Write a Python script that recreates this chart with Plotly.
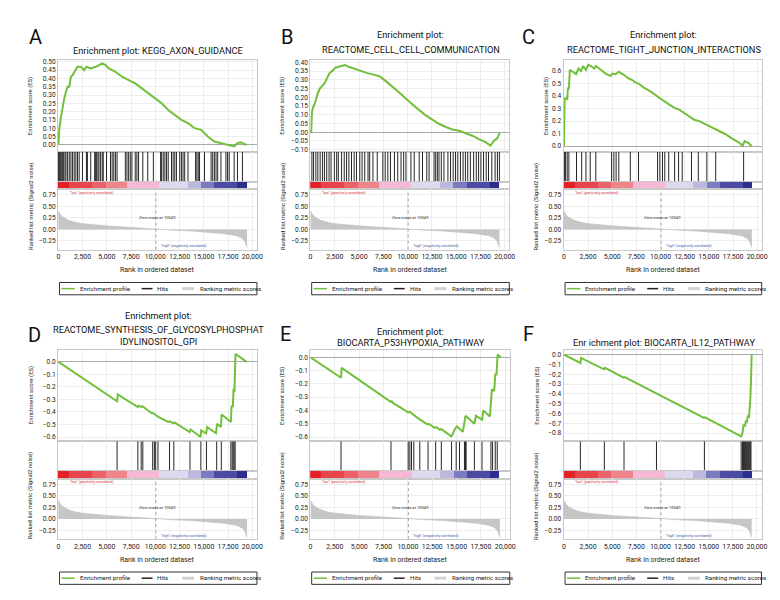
import plotly.graph_objects as go

# ---------------- data ----------------
letters = ["A", "B", "C", "D", "E", "F"]
title_lines = [
    ["Enrichment plot: KEGG_AXON_GUIDANCE"],
    ["Enrichment plot:", "REACTOME_CELL_CELL_COMMUNICATION"],
    ["Enrichment plot:", "REACTOME_TIGHT_JUNCTION_INTERACTIONS"],
    ["Enrichment plot:", "REACTOME_SYNTHESIS_OF_GLYCOSYLPHOSPHAT", "IDYLINOSITOL_GPI"],
    ["Enrichment plot:", "BIOCARTA_P53HYPOXIA_PATHWAY"],
    ["Enr ichment plot: BIOCARTA_IL12_PATHWAY"],
]

es_x_A = [0, 102, 272, 442, 612, 782, 952, 1122, 1292, 1462, 1632, 1802, 1972, 2312, 2652, 2890, 3332,
          3842, 4182, 4522, 4862, 5202, 5882, 6562, 7242, 7922, 8602, 9282, 9962, 10642, 11322, 12002,
          12682, 13362, 14042, 14722, 15402, 16082, 16762, 17442, 18122, 18462, 18802, 19142, 19414]
es_y_A = [0.0, 0.10, 0.17, 0.23, 0.28, 0.32, 0.35, 0.35, 0.41, 0.42, 0.44, 0.46, 0.47, 0.47, 0.45, 0.47, 0.46,
          0.47, 0.48, 0.49, 0.48, 0.46, 0.44, 0.41, 0.39, 0.37, 0.34, 0.31, 0.28, 0.25, 0.21, 0.18,
          0.15, 0.13, 0.10, 0.09, 0.05, 0.02, 0.01, 0.0, -0.01, 0.01, 0.015, 0.005, 0.0]

es_x_B = [0, 68, 136, 238, 408, 612, 748, 952, 1190, 1428, 1700, 1972, 2210, 2550, 2890, 3230, 3570, 3910,
          4420, 5100, 5780, 6460, 7140, 7820, 8500, 9180, 9860, 10540, 11220, 11900, 12580, 13260, 13940,
          14620, 15300, 15980, 16660, 17340, 18020, 18530, 18870, 19210, 19480]
es_y_B = [0.0, 0.0, 0.11, 0.14, 0.16, 0.20, 0.225, 0.25, 0.265, 0.28, 0.31, 0.34, 0.35, 0.37, 0.375, 0.38,
          0.385, 0.375, 0.365, 0.35, 0.34, 0.33, 0.32, 0.29, 0.26, 0.225, 0.19, 0.155, 0.125, 0.095, 0.07,
          0.047, 0.03, 0.015, 0.008, -0.004, -0.02, -0.04, -0.057, -0.077, -0.05, -0.035, -0.004]

es_x_C = [0, 34, 68, 238, 340, 408, 510, 612, 918, 1258, 1496, 1768, 1972, 2278, 2516, 2788, 3128, 3298,
          3808, 4318, 4828, 4998, 5338, 5508, 5678, 6188, 6698, 7038, 7378, 7718, 8228, 8908, 9588, 10268,
          10948, 11458, 11968, 12478, 12988, 13498, 14008, 14518, 15028, 15538, 16048, 16728, 17408, 18088,
          18496, 18700, 19108, 19448]
es_y_C = [0.0, 0.265, 0.38, 0.385, 0.37, 0.46, 0.46, 0.61, 0.595, 0.575, 0.62, 0.60, 0.64, 0.61, 0.65, 0.64,
          0.62, 0.64, 0.61, 0.58, 0.56, 0.58, 0.575, 0.585, 0.595, 0.57, 0.54, 0.53, 0.51, 0.50, 0.47, 0.44,
          0.40, 0.365, 0.33, 0.305, 0.29, 0.265, 0.24, 0.21, 0.20, 0.18, 0.16, 0.14, 0.12, 0.095, 0.06, 0.03,
          0.003, 0.04, 0.025, 0.0]

es_x_D = [0, 6052, 6120, 8194, 8262, 8534, 8670, 8772, 9622, 9792, 9962, 10302, 11322, 11492, 11832, 12002,
          13532, 13634, 14654, 14722, 15232, 15334, 16252, 16354, 16762, 16830, 17782, 17850, 17986, 18054,
          18156, 18190, 18258, 19414]
es_y_D = [0.0, -0.315, -0.26, -0.36, -0.35, -0.36, -0.355, -0.36, -0.41, -0.41, -0.42, -0.44, -0.48, -0.475,
          -0.49, -0.485, -0.56, -0.54, -0.60, -0.547, -0.57, -0.52, -0.57, -0.495, -0.52, -0.42, -0.48, -0.35,
          -0.36, -0.226, -0.23, -0.087, 0.063, 0.0]

es_x_E = [0, 3128, 3196, 8228, 8330, 8500, 10030, 10200, 10880, 11900, 12240, 12750, 12920, 13260, 13430,
          14450, 14620, 14790, 15028, 15640, 15810, 15912, 16830, 17000, 17612, 17748, 18428, 18530, 18632,
          18870, 18972, 19108, 19210, 19550]
es_y_E = [0.0, -0.154, -0.08, -0.335, -0.33, -0.345, -0.415, -0.41, -0.45, -0.50, -0.505, -0.53, -0.525,
          -0.545, -0.54, -0.595, -0.575, -0.545, -0.52, -0.56, -0.49, -0.44, -0.50, -0.44, -0.47, -0.40,
          -0.445, -0.34, -0.24, -0.253, -0.13, -0.13, 0.02, 0.0]

es_x_F = [0, 1700, 1768, 4148, 4250, 6188, 6290, 9588, 9620, 14518, 14620, 18360, 18496, 18598, 18768,
          18836, 18972, 19040, 19176, 19244, 19312, 19380, 19414, 19448]
es_y_F = [0.0, -0.084, -0.034, -0.15, -0.135, -0.235, -0.23, -0.396, -0.39, -0.645, -0.64, -0.834, -0.80,
          -0.72, -0.725, -0.68, -0.685, -0.63, -0.635, -0.57, -0.454, -0.27, -0.17, 0.0]

hits_A = [20, 102, 204, 340, 442, 544, 680, 782, 952, 1122, 1292, 1462, 1632, 1802, 1972, 2142, 2482, 2890,
          2992, 3332, 3740, 3842, 3944, 4080, 4182, 4352, 4522, 4624, 4964, 5372, 5542, 5712, 5882, 6052,
          6902, 7072, 7242, 7412, 7582, 7922, 8092, 8262, 8704, 9214, 9792, 10540, 10642, 10812, 10982,
          11152, 11322, 11662, 11832, 12002, 12172, 12512, 12682, 12852, 13022, 13362, 14144, 14280, 14416,
          14552, 15062, 15742, 15912, 16082, 16252, 16422, 16762, 17272, 17442, 17612, 18122, 18462, 18972]
hits_B = [136, 306, 544, 748, 986, 1224, 1428, 1666, 1904, 2108, 2448, 2686, 2856, 3196, 3468, 3706, 3944,
          4216, 4488, 4726, 5066, 5304, 5576, 5916, 6086, 6426, 6868, 7446, 7684, 7956, 8228, 8636, 8976,
          9316, 9588, 9826, 10336, 10676, 11186, 11526, 11968, 12206, 12716, 12886, 13056, 13226, 13464,
          13736, 14144, 14416, 14688, 14926, 15164, 15436, 15708, 15946, 16184, 16456, 16796, 17068, 17306,
          17544, 17816, 18088, 18326, 18666, 19006, 19244, 19448]
hits_C = [68, 170, 340, 510, 1300, 1836, 2278, 2720, 3298, 4930, 5168, 5400, 5678, 6868, 7718, 9690, 9928,
          10200, 10438, 10846, 11458, 11866, 12240, 13200, 13906, 14790, 15708, 18598]
hits_D = [6052, 8194, 8534, 8704, 9724, 9894, 10030, 10268, 11458, 11900, 13566, 14688, 15266, 16320, 16796,
          17782, 17918, 18020, 18122, 18224]
hits_E = [3128, 8262, 10030, 10200, 10370, 10608, 11220, 12070, 12852, 13430, 14484, 14960, 15300, 15810,
          15912, 15980, 16830, 17612, 18530, 18700, 18972, 19176]
hits_F = [1700, 4182, 6222, 9588, 14552, 18360, 18496, 18598, 18700, 18802, 18904, 19006, 19108, 19210,
          19312, 19380]

rank_metric_x = [0, 100, 250, 450, 700, 1000, 1400, 1800, 2500, 3500, 5200, 6900, 8600, 10049, 12000,
                 13700, 15400, 17100, 18400, 18900, 19200, 19350, 19450]
rank_metric_y = [0.40, 0.35, 0.31, 0.27, 0.235, 0.205, 0.175, 0.15, 0.125, 0.10, 0.072, 0.05, 0.022, 0.0,
                 -0.02, -0.035, -0.058, -0.094, -0.14, -0.19, -0.25, -0.32, -0.40]
ZERO_CROSS = 10049

cbar_start = [0, 1050, 3500, 4860, 7070, 10400, 13360, 14720, 16080, 18460]
cbar_end = [1050, 3500, 4860, 7070, 10400, 13360, 14720, 16080, 18460, 19420]
cbar_colors = ["#e41f26", "#e8444b", "#eb6269", "#ef858b", "#f5b8d5", "#dcdaee", "#bdb9de", "#7b7bc2",
               "#4b4ba4", "#2b2e8e"]

x_ticks = [0, 2500, 5000, 7500, 10000, 12500, 15000, 17500, 20000]
rank_y_ticks = [-0.25, 0.0, 0.25, 0.5, 0.75]

es_x_all = [es_x_A, es_x_B, es_x_C, es_x_D, es_x_E, es_x_F]
es_y_all = [es_y_A, es_y_B, es_y_C, es_y_D, es_y_E, es_y_F]
hits_all = [hits_A, hits_B, hits_C, hits_D, hits_E, hits_F]

# ---------------- layout geometry / style ----------------
W, H = 780, 600
FONT = "Roboto, Liberation Sans, sans-serif"
GREEN = "#72bf3c"
XR = [-40, 20470]

panels = [
    dict(L=48.5, R=249.5, top=50.5, esr=[-0.042, 0.51], est=[i * 0.05 for i in range(11)], fmt=".2f", yt=27,
         tl=[41], lx=25.5, ly=27.5),
    dict(L=303.3, R=504.5, top=50.5, esr=[-0.112, 0.413], est=[-0.10 + i * 0.05 for i in range(11)], fmt=".2f",
         yt=27.5, tl=[25, 40], lx=280, ly=27),
    dict(L=559.3, R=759.5, top=50.5, esr=[-0.045, 0.687], est=[i * 0.1 for i in range(7)], fmt=".1f", yt=16.5,
         tl=[25, 40], lx=524, ly=27),
    dict(L=48.5, R=249.5, top=342, esr=[-0.634, 0.097], est=[-0.6 + i * 0.1 for i in range(7)], fmt=".1f",
         yt=26.5, tl=[307.3, 321.7, 333.3], lx=25, ly=327),
    dict(L=303.3, R=505, top=342, esr=[-0.632, 0.057], est=[-0.6 + i * 0.1 for i in range(7)], fmt=".1f",
         yt=28, tl=[323.3, 335], lx=278, ly=326),
    dict(L=559.3, R=759.3, top=342, esr=[-0.884, 0.05], est=[-0.8 + i * 0.1 for i in range(9)], fmt=".1f",
         yt=26.5, tl=[335], lx=524, ly=326),
]


def PX(p):
    return p / W


def PY(p):
    return 1 - p / H


def names(n):
    if n == 1:
        return "xaxis", "yaxis", "x", "y"
    return f"xaxis{n}", f"yaxis{n}", f"x{n}", f"y{n}"


fig = go.Figure()
layout = {}
annotations = []
shapes = []

LINEC = "#c8c8c8"
GRIDC = "#ededed"

for i, p in enumerate(panels):
    L, R, top = p["L"], p["R"], p["top"]
    xdom = [PX(L), PX(R)]
    seg = {
        "es": (top, top + 92.2),
        "hits": (top + 92.2, top + 122.2),
        "cb": (top + 122.2, top + 129.7),
        "rk": (top + 129.7, top + 190.7),
    }
    ids = {k: 4 * i + j + 1 for j, k in enumerate(["es", "hits", "cb", "rk"])}
    for key, n in ids.items():
        xa, ya, xr, yr = names(n)
        t0, t1 = seg[key]
        base_x = dict(domain=xdom, range=XR, anchor=yr, showline=True, mirror=True, linecolor=LINEC,
                      linewidth=1, zeroline=False, ticks="", showticklabels=False, showgrid=False,
                      tickvals=x_ticks)
        base_y = dict(domain=[PY(t1), PY(t0)], anchor=xr, showline=True, mirror=True, linecolor=LINEC,
                      linewidth=1, zeroline=False, ticks="", showticklabels=False, showgrid=False)
        if key == "es":
            base_x.update(showgrid=True, gridcolor=GRIDC, gridwidth=1)
            base_y.update(range=p["esr"], tickvals=p["est"], tickformat=p["fmt"], showticklabels=True,
                          tickfont=dict(family=FONT, size=6.6, color="#222"), showgrid=True, gridcolor=GRIDC,
                          zeroline=True, zerolinecolor="#a8a8a8", zerolinewidth=1)
        elif key == "hits":
            base_x.update(showgrid=True, gridcolor=GRIDC)
            base_y.update(range=[0, 1])
        elif key == "cb":
            base_y.update(range=[-0.5, 0.5])
        else:
            base_x.update(showticklabels=True, tickformat=",", showgrid=True, gridcolor=GRIDC, tickangle=0,
                          tickfont=dict(family=FONT, size=7, color="#222"))
            base_y.update(range=[-0.44, 0.88], tickvals=rank_y_ticks, tickformat=".2f", showticklabels=True,
                          tickfont=dict(family=FONT, size=6.6, color="#222"), showgrid=True, gridcolor=GRIDC)
        layout[xa] = base_x
        layout[ya] = base_y

    # traces
    _, _, xr, yr = names(ids["rk"])
    fig.add_trace(go.Scatter(x=rank_metric_x, y=rank_metric_y, mode="lines", fill="tozeroy",
                             fillcolor="#c6c6c6", line=dict(color="#bdbdbd", width=0.6),
                             xaxis=xr, yaxis=yr, showlegend=False, hoverinfo="skip"))
    shapes.append(dict(type="line", xref=xr, yref=f"{yr} domain", x0=ZERO_CROSS, x1=ZERO_CROSS, y0=0, y1=1,
                       line=dict(color="#a5a5a5", width=1, dash="dot")))
    annotations.append(dict(xref=xr, yref=yr, x=950, y=0.80, xanchor="left", yanchor="middle",
                            text='"low" (positively correlated)', showarrow=False,
                            font=dict(family=FONT, size=3.6, color="#d8323a")))
    annotations.append(dict(xref=xr, yref=yr, x=10350, y=-0.37, xanchor="left", yanchor="middle",
                            text='"high" (negatively correlated)', showarrow=False,
                            font=dict(family=FONT, size=3.6, color="#3a5ea8")))
    annotations.append(dict(xref=xr, yref=yr, x=ZERO_CROSS + 200, y=0.25, xanchor="center", yanchor="middle",
                            text="Zero cross at " + str(ZERO_CROSS), showarrow=False,
                            font=dict(family=FONT, size=4.1, color="#333")))

    _, _, xr, yr = names(ids["cb"])
    fig.add_trace(go.Bar(y=[0] * len(cbar_start), x=[e - s for s, e in zip(cbar_start, cbar_end)],
                         base=cbar_start, orientation="h", width=1, marker=dict(color=cbar_colors, line_width=0),
                         xaxis=xr, yaxis=yr, showlegend=False, hoverinfo="skip"))

    _, _, xr, yr = names(ids["hits"])
    hx, hy = [], []
    for h in hits_all[i]:
        hx += [h, h, None]
        hy += [0, 1, None]
    fig.add_trace(go.Scatter(x=hx, y=hy, mode="lines", line=dict(color="#262626", width=1),
                             xaxis=xr, yaxis=yr, showlegend=False, hoverinfo="skip"))

    _, _, xr, yr = names(ids["es"])
    fig.add_trace(go.Scatter(x=es_x_all[i], y=es_y_all[i], mode="lines", line=dict(color=GREEN, width=2),
                             xaxis=xr, yaxis=yr, showlegend=False, hoverinfo="skip"))

    # texts
    cx = (L + R) / 2
    for line, yy in zip(title_lines[i], p["tl"]):
        annotations.append(dict(xref="paper", yref="paper", x=PX(cx + 1), y=PY(yy), text=line, showarrow=False,
                                xanchor="center", yanchor="middle", font=dict(family=FONT, size=9.2, color="#111")))
    annotations.append(dict(xref="paper", yref="paper", x=PX(p["lx"]), y=PY(p["ly"]), text=letters[i],
                            showarrow=False, xanchor="center", yanchor="middle",
                            font=dict(family=FONT, size=20, color="#111")))
    annotations.append(dict(xref="paper", yref="paper", x=PX(L - p["yt"]), y=PY(top + 46), text="Enrichment score (ES)",
                            textangle=-90, showarrow=False, xanchor="center", yanchor="middle",
                            font=dict(family=FONT, size=5.9, color="#222")))
    annotations.append(dict(xref="paper", yref="paper", x=PX(L - 27.5), y=PY(top + 147),
                            text="Ranked list metric (Signal2 noise)", textangle=-90, showarrow=False,
                            xanchor="center", yanchor="middle", font=dict(family=FONT, size=5.9, color="#222")))
    annotations.append(dict(xref="paper", yref="paper", x=PX(cx), y=PY(top + 211.5), text="Rank in ordered dataset",
                            showarrow=False, xanchor="center", yanchor="middle",
                            font=dict(family=FONT, size=7, color="#222")))

    # legend box
    bl, br = L + 1.5, R
    bt, bb = top + 223.8, top + 236.2
    bm = (bt + bb) / 2
    shapes.append(dict(type="rect", xref="paper", yref="paper", x0=PX(bl), x1=PX(br), y0=PY(bb), y1=PY(bt),
                       line=dict(color="#333", width=1)))
    for (a, b, col, wd), (tx, label) in zip(
            [(2, 15.5, GREEN, 1.5), (83, 94, "#222", 1.5), (124, 136, "#d2d2d2", 3)],
            [(18.5, "Enrichment profile"), (97, "Hits"), (139.5, "Ranking metric scores")]):
        shapes.append(dict(type="line", xref="paper", yref="paper", x0=PX(bl + a), x1=PX(bl + b), y0=PY(bm),
                           y1=PY(bm), line=dict(color=col, width=wd)))
        annotations.append(dict(xref="paper", yref="paper", x=PX(bl + tx), y=PY(bm), text=label, showarrow=False,
                                xanchor="left", yanchor="middle", font=dict(family=FONT, size=6.2, color="#222")))

fig.update_layout(**layout)
fig.update_layout(width=W, height=H, margin=dict(l=0, r=0, t=0, b=0), paper_bgcolor="white",
                  plot_bgcolor="white", annotations=annotations, shapes=shapes, showlegend=False,
                  bargap=0, font=dict(family=FONT))
fig.write_html("out.html")
